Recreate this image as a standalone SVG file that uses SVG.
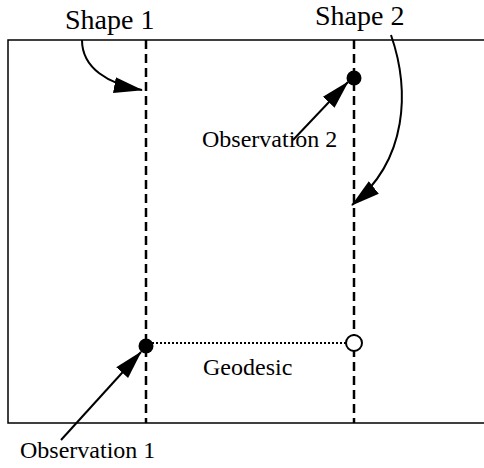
<svg xmlns="http://www.w3.org/2000/svg" width="484" height="468" viewBox="0 0 484 468">
<style>
text{font-family:"Liberation Serif","Times New Roman",serif;fill:#000}
.frame{stroke:#000;stroke-width:1.5;fill:none}
.shape{stroke:#000;stroke-width:2.5;stroke-dasharray:9 5;fill:none}
.conn{stroke:#000;stroke-width:2;fill:none}
.geo{stroke:#000;stroke-width:2;stroke-dasharray:2 2;fill:none}
</style>
<defs>
<marker id="ah" markerUnits="userSpaceOnUse" markerWidth="30" markerHeight="20" viewBox="0 0 30 20" refX="28" refY="10" orient="auto">
<path d="M0,2 L29,10 L0,18 z" fill="#000"/>
</marker>
</defs>
<rect width="484" height="468" fill="#fff"/>
<g id="frame">
<path class="frame" d="M484,40 H8 V423 H484"/>
</g>
<g id="shape1">
<line class="shape" x1="146" y1="40" x2="146" y2="423"/>
<text x="65" y="29" font-size="28">Shape 1</text>
</g>
<g id="shape2">
<line class="shape" x1="354" y1="40" x2="354" y2="423"/>
<text x="315" y="25" font-size="28">Shape 2</text>
</g>
<g id="geodesic">
<line class="geo" x1="152" y1="343" x2="346" y2="343"/>
<text x="203" y="375" font-size="24">Geodesic</text>
</g>
<g id="observation1">
<circle cx="146" cy="346" r="7.5" fill="#000"/>
<text x="20" y="458" font-size="24">Observation 1</text>
</g>
<g id="observation2">
<circle cx="354" cy="78" r="7.5" fill="#000"/>
<text x="202" y="147" font-size="24">Observation 2</text>
</g>
<g id="projection">
<circle cx="354" cy="343" r="8" fill="#fff" stroke="#000" stroke-width="2"/>
</g>
<g id="connectors">
<path class="conn" d="M82,40 C82,68 108,84 142,90" marker-end="url(#ah)"/>
<path class="conn" d="M391,35 C410,90 408,160 352,205" marker-end="url(#ah)"/>
<line class="conn" x1="293" y1="140" x2="348" y2="82" marker-end="url(#ah)"/>
<line class="conn" x1="61" y1="440" x2="141" y2="352" marker-end="url(#ah)"/>
</g>
</svg>
